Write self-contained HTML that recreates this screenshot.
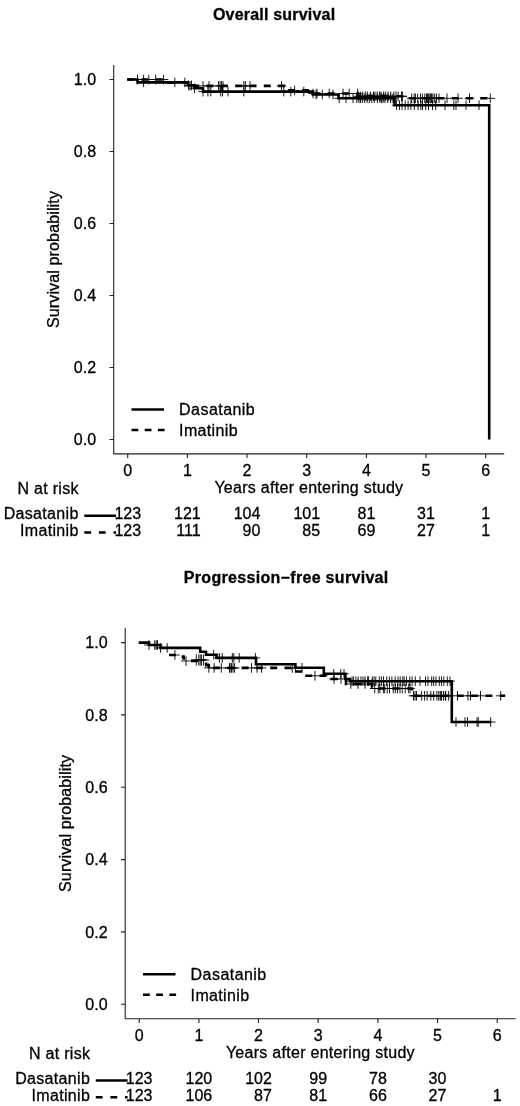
<!DOCTYPE html>
<html><head><meta charset="utf-8"><title>Survival curves</title>
<style>
html,body{margin:0;padding:0;background:#fff;}
svg{display:block;filter:blur(0.4px);}
text{font-family:"Liberation Sans",Arial,sans-serif;fill:#000;stroke:#000;stroke-width:0.3px;}
</style></head><body>
<svg width="520" height="1106" viewBox="0 0 520 1106">
<rect width="520" height="1106" fill="#fff"/>
<text x="274.1" y="20.2" text-anchor="middle" font-weight="bold" font-size="16" letter-spacing="0.2">Overall survival</text>
<path d="M113.7 65.1V453.9H504.2" fill="none" stroke="#222" stroke-width="1.1"/>
<path d="M113.7 439.5h-4.2M113.7 367.5h-4.2M113.7 295.5h-4.2M113.7 223.5h-4.2M113.7 151.5h-4.2M113.7 79.5h-4.2M127.7 453.9v4.2M187.4 453.9v4.2M247.0 453.9v4.2M306.7 453.9v4.2M366.4 453.9v4.2M426.0 453.9v4.2M485.7 453.9v4.2" fill="none" stroke="#222" stroke-width="1.1"/>
<text x="96.1" y="445.3" text-anchor="end" font-size="16">0.0</text>
<text x="96.1" y="373.3" text-anchor="end" font-size="16">0.2</text>
<text x="96.1" y="301.3" text-anchor="end" font-size="16">0.4</text>
<text x="96.1" y="229.3" text-anchor="end" font-size="16">0.6</text>
<text x="96.1" y="157.3" text-anchor="end" font-size="16">0.8</text>
<text x="96.1" y="85.3" text-anchor="end" font-size="16">1.0</text>
<text x="127.7" y="476.2" text-anchor="middle" font-size="16">0</text>
<text x="187.4" y="476.2" text-anchor="middle" font-size="16">1</text>
<text x="247.0" y="476.2" text-anchor="middle" font-size="16">2</text>
<text x="306.7" y="476.2" text-anchor="middle" font-size="16">3</text>
<text x="366.4" y="476.2" text-anchor="middle" font-size="16">4</text>
<text x="426.0" y="476.2" text-anchor="middle" font-size="16">5</text>
<text x="485.7" y="476.2" text-anchor="middle" font-size="16">6</text>
<text transform="translate(59.3 259.5) rotate(-90)" text-anchor="middle" font-size="16" letter-spacing="0.14">Survival probability</text>
<text x="308.9" y="493.3" text-anchor="middle" font-size="16" letter-spacing="0.28">Years after entering study</text>
<text x="78.8" y="493.8" text-anchor="end" font-size="16" letter-spacing="0.3">N at risk</text>
<text x="78.7" y="519.3" text-anchor="end" font-size="16" letter-spacing="0.33">Dasatanib</text>
<text x="78.7" y="535.9" text-anchor="end" font-size="16" letter-spacing="0.33">Imatinib</text>
<path d="M84.3 515.7H116.1" stroke="#000" stroke-width="2.6" fill="none"/>
<path d="M84.3 532.5H116.1" stroke="#000" stroke-width="2.6" stroke-dasharray="6.8 7.8" fill="none"/>
<text x="141.1" y="519.3" text-anchor="end" font-size="16">123</text>
<text x="141.1" y="535.9" text-anchor="end" font-size="16">123</text>
<text x="200.7" y="519.3" text-anchor="end" font-size="16">121</text>
<text x="200.7" y="535.9" text-anchor="end" font-size="16">111</text>
<text x="260.4" y="519.3" text-anchor="end" font-size="16">104</text>
<text x="260.4" y="535.9" text-anchor="end" font-size="16">90</text>
<text x="320.1" y="519.3" text-anchor="end" font-size="16">101</text>
<text x="320.1" y="535.9" text-anchor="end" font-size="16">85</text>
<text x="375.3" y="519.3" text-anchor="end" font-size="16">81</text>
<text x="375.3" y="535.9" text-anchor="end" font-size="16">69</text>
<text x="434.9" y="519.3" text-anchor="end" font-size="16">31</text>
<text x="434.9" y="535.9" text-anchor="end" font-size="16">27</text>
<text x="490.1" y="519.3" text-anchor="end" font-size="16">1</text>
<text x="490.1" y="535.9" text-anchor="end" font-size="16">1</text>
<path d="M131.5 409.5H164.0" stroke="#000" stroke-width="2.6" fill="none"/>
<path d="M131.5 430.0H164.6" stroke="#000" stroke-width="2.6" stroke-dasharray="6.8 6.4" fill="none"/>
<text x="179.1" y="415.3" font-size="16" letter-spacing="0.45">Dasatanib</text>
<text x="179.1" y="435.8" font-size="16" letter-spacing="0.35">Imatinib</text>

<path d="M127.2 79.5H168.0V82.4H190.0V85.9H285.4V90.4H313.0V93.5H358.0V96.3H404.0V98.3H491.0" stroke="#000" stroke-width="2.6" stroke-dasharray="7 7.3" stroke-dashoffset="0" fill="none"/>
<path d="M127.2 79.5H137.5V82.4H188.0V85.3H194.4V88.3H203.0V91.6H313.0V94.5H338.5V98.3H394.5V105.2H489.2V439.5H489.2" stroke="#000" stroke-width="2.6" fill="none" stroke-linejoin="miter"/>
<path d="M143.6 77.6V87.2M138.8 82.4H148.4M174.8 77.6V87.2M170.0 82.4H179.6M184.8 77.6V87.2M180.0 82.4H189.6M188.5 80.5V90.1M183.7 85.3H193.3M191.5 80.5V90.1M186.7 85.3H196.3M194.4 83.5V93.1M189.6 88.3H199.2M203.0 86.8V96.4M198.2 91.6H207.8M207.9 86.8V96.4M203.1 91.6H212.7M210.8 86.8V96.4M206.0 91.6H215.6M220.7 86.8V96.4M215.9 91.6H225.5M222.5 86.8V96.4M217.7 91.6H227.3M228.0 86.8V96.4M223.2 91.6H232.8M243.8 86.8V96.4M239.0 91.6H248.6M283.8 86.8V96.4M279.0 91.6H288.6M290.8 86.8V96.4M286.0 91.6H295.6M303.8 86.8V96.4M299.0 91.6H308.6M316.0 89.7V99.3M311.2 94.5H320.8M322.3 89.7V99.3M317.5 94.5H327.1M333.0 89.7V99.3M328.2 94.5H337.8M339.2 93.5V103.1M334.4 98.3H344.0M346.0 93.5V103.1M341.2 98.3H350.8M353.0 93.5V103.1M348.2 98.3H357.8M356.8 93.5V103.1M352.0 98.3H361.6M359.0 93.5V103.1M354.2 98.3H363.8M360.6 93.5V103.1M355.8 98.3H365.4M362.3 93.5V103.1M357.5 98.3H367.1M364.7 93.5V103.1M359.9 98.3H369.5M367.1 93.5V103.1M362.3 98.3H371.9M369.2 93.5V103.1M364.4 98.3H374.0M371.8 93.5V103.1M367.0 98.3H376.6M374.3 93.5V103.1M369.5 98.3H379.1M377.4 93.5V103.1M372.6 98.3H382.2M380.0 93.5V103.1M375.2 98.3H384.8M381.6 93.5V103.1M376.8 98.3H386.4M383.0 93.5V103.1M378.2 98.3H387.8M384.9 93.5V103.1M380.1 98.3H389.7M387.7 93.5V103.1M382.9 98.3H392.5M390.7 93.5V103.1M385.9 98.3H395.5M392.9 93.5V103.1M388.1 98.3H397.7M396.6 100.4V110.0M391.8 105.2H401.4M399.5 100.4V110.0M394.7 105.2H404.3M402.0 100.4V110.0M397.2 105.2H406.8M405.2 100.4V110.0M400.4 105.2H410.0M408.1 100.4V110.0M403.3 105.2H412.9M410.9 100.4V110.0M406.1 105.2H415.7M414.3 100.4V110.0M409.5 105.2H419.1M418.1 100.4V110.0M413.3 105.2H422.9M420.9 100.4V110.0M416.1 105.2H425.7M422.5 100.4V110.0M417.7 105.2H427.3M425.7 100.4V110.0M420.9 105.2H430.5M428.5 100.4V110.0M423.7 105.2H433.3M432.5 100.4V110.0M427.7 105.2H437.3M435.7 100.4V110.0M430.9 105.2H440.5M445.0 100.4V110.0M440.2 105.2H449.8M453.8 100.4V110.0M449.0 105.2H458.6M456.0 100.4V110.0M451.2 105.2H460.8M466.0 100.4V110.0M461.2 105.2H470.8M479.0 100.4V110.0M474.2 105.2H483.8M137.5 74.7V84.3M132.7 79.5H142.3M143.6 74.7V84.3M138.8 79.5H148.4M148.8 74.7V84.3M144.0 79.5H153.6M155.7 74.7V84.3M150.9 79.5H160.5M163.6 74.7V84.3M158.8 79.5H168.4M190.0 81.1V90.7M185.2 85.9H194.8M203.0 81.1V90.7M198.2 85.9H207.8M209.0 81.1V90.7M204.2 85.9H213.8M218.5 81.1V90.7M213.7 85.9H223.3M220.0 81.1V90.7M215.2 85.9H224.8M221.5 81.1V90.7M216.7 85.9H226.3M223.0 81.1V90.7M218.2 85.9H227.8M243.8 81.1V90.7M239.0 85.9H248.6M245.4 81.1V90.7M240.6 85.9H250.2M250.0 81.1V90.7M245.2 85.9H254.8M281.5 81.1V90.7M276.7 85.9H286.3M294.6 85.6V95.2M289.8 90.4H299.4M313.0 88.7V98.3M308.2 93.5H317.8M317.0 88.7V98.3M312.2 93.5H321.8M329.2 88.7V98.3M324.4 93.5H334.0M343.0 88.7V98.3M338.2 93.5H347.8M349.2 88.7V98.3M344.4 93.5H354.0M357.7 88.7V98.3M352.9 93.5H362.5M358.2 91.5V101.1M353.4 96.3H363.0M360.4 91.5V101.1M355.6 96.3H365.2M362.8 91.5V101.1M358.0 96.3H367.6M365.3 91.5V101.1M360.5 96.3H370.1M367.3 91.5V101.1M362.5 96.3H372.1M370.4 91.5V101.1M365.6 96.3H375.2M373.5 91.5V101.1M368.7 96.3H378.3M375.0 91.5V101.1M370.2 96.3H379.8M377.1 91.5V101.1M372.3 96.3H381.9M379.4 91.5V101.1M374.6 96.3H384.2M380.9 91.5V101.1M376.1 96.3H385.7M383.6 91.5V101.1M378.8 96.3H388.4M385.7 91.5V101.1M380.9 96.3H390.5M388.1 91.5V101.1M383.3 96.3H392.9M390.7 91.5V101.1M385.9 96.3H395.5M393.8 91.5V101.1M389.0 96.3H398.6M396.0 91.5V101.1M391.2 96.3H400.8M398.1 91.5V101.1M393.3 96.3H402.9M401.5 91.5V101.1M396.7 96.3H406.3M402.4 91.5V101.1M397.6 96.3H407.2M411.7 93.5V103.1M406.9 98.3H416.5M414.2 93.5V103.1M409.4 98.3H419.0M415.4 93.5V103.1M410.6 98.3H420.2M417.7 93.5V103.1M412.9 98.3H422.5M420.5 93.5V103.1M415.7 98.3H425.3M422.4 93.5V103.1M417.6 98.3H427.2M424.8 93.5V103.1M420.0 98.3H429.6M426.5 93.5V103.1M421.7 98.3H431.3M427.4 93.5V103.1M422.6 98.3H432.2M428.3 93.5V103.1M423.5 98.3H433.1M429.1 93.5V103.1M424.3 98.3H433.9M430.3 93.5V103.1M425.5 98.3H435.1M431.3 93.5V103.1M426.5 98.3H436.1M431.8 93.5V103.1M427.0 98.3H436.6M433.0 93.5V103.1M428.2 98.3H437.8M434.7 93.5V103.1M429.9 98.3H439.5M436.5 93.5V103.1M431.7 98.3H441.3M439.0 93.5V103.1M434.2 98.3H443.8M447.0 93.5V103.1M442.2 98.3H451.8M458.0 93.5V103.1M453.2 98.3H462.8M469.5 93.5V103.1M464.7 98.3H474.3M490.3 93.5V103.1M485.5 98.3H495.1" stroke="#000" stroke-width="0.9" fill="none"/>
<text x="286.2" y="583" text-anchor="middle" font-weight="bold" font-size="16" letter-spacing="0.31">Progression−free survival</text>
<path d="M125.2 628.1V1018.7H515.7" fill="none" stroke="#222" stroke-width="1.1"/>
<path d="M125.2 1004.2h-4.2M125.2 931.9h-4.2M125.2 859.6h-4.2M125.2 787.2h-4.2M125.2 714.9h-4.2M125.2 642.6h-4.2M139.2 1018.7v4.2M198.9 1018.7v4.2M258.5 1018.7v4.2M318.2 1018.7v4.2M377.9 1018.7v4.2M437.5 1018.7v4.2M497.2 1018.7v4.2" fill="none" stroke="#222" stroke-width="1.1"/>
<text x="107.6" y="1010.0" text-anchor="end" font-size="16">0.0</text>
<text x="107.6" y="937.7" text-anchor="end" font-size="16">0.2</text>
<text x="107.6" y="865.4" text-anchor="end" font-size="16">0.4</text>
<text x="107.6" y="793.0" text-anchor="end" font-size="16">0.6</text>
<text x="107.6" y="720.7" text-anchor="end" font-size="16">0.8</text>
<text x="107.6" y="648.4" text-anchor="end" font-size="16">1.0</text>
<text x="139.2" y="1041.0" text-anchor="middle" font-size="16">0</text>
<text x="198.9" y="1041.0" text-anchor="middle" font-size="16">1</text>
<text x="258.5" y="1041.0" text-anchor="middle" font-size="16">2</text>
<text x="318.2" y="1041.0" text-anchor="middle" font-size="16">3</text>
<text x="377.9" y="1041.0" text-anchor="middle" font-size="16">4</text>
<text x="437.5" y="1041.0" text-anchor="middle" font-size="16">5</text>
<text x="497.2" y="1041.0" text-anchor="middle" font-size="16">6</text>
<text transform="translate(70.8 823.4) rotate(-90)" text-anchor="middle" font-size="16" letter-spacing="0.14">Survival probability</text>
<text x="320.4" y="1058.1" text-anchor="middle" font-size="16" letter-spacing="0.28">Years after entering study</text>
<text x="90.3" y="1058.6" text-anchor="end" font-size="16" letter-spacing="0.3">N at risk</text>
<text x="90.2" y="1084.1" text-anchor="end" font-size="16" letter-spacing="0.33">Dasatanib</text>
<text x="90.2" y="1100.7" text-anchor="end" font-size="16" letter-spacing="0.33">Imatinib</text>
<path d="M95.8 1080.5H127.6" stroke="#000" stroke-width="2.6" fill="none"/>
<path d="M95.8 1097.3H127.6" stroke="#000" stroke-width="2.6" stroke-dasharray="6.8 7.8" fill="none"/>
<text x="152.5" y="1084.1" text-anchor="end" font-size="16">123</text>
<text x="152.5" y="1100.7" text-anchor="end" font-size="16">123</text>
<text x="212.2" y="1084.1" text-anchor="end" font-size="16">120</text>
<text x="212.2" y="1100.7" text-anchor="end" font-size="16">106</text>
<text x="271.9" y="1084.1" text-anchor="end" font-size="16">102</text>
<text x="271.9" y="1100.7" text-anchor="end" font-size="16">87</text>
<text x="327.1" y="1084.1" text-anchor="end" font-size="16">99</text>
<text x="327.1" y="1100.7" text-anchor="end" font-size="16">81</text>
<text x="386.8" y="1084.1" text-anchor="end" font-size="16">78</text>
<text x="386.8" y="1100.7" text-anchor="end" font-size="16">66</text>
<text x="446.4" y="1084.1" text-anchor="end" font-size="16">30</text>
<text x="446.4" y="1100.7" text-anchor="end" font-size="16">27</text>
<text x="501.6" y="1100.7" text-anchor="end" font-size="16">1</text>
<path d="M143.0 974.3H175.5" stroke="#000" stroke-width="2.6" fill="none"/>
<path d="M143.0 994.8H176.1" stroke="#000" stroke-width="2.6" stroke-dasharray="6.8 6.4" fill="none"/>
<text x="190.6" y="980.1" font-size="16" letter-spacing="0.45">Dasatanib</text>
<text x="190.6" y="1000.6" font-size="16" letter-spacing="0.35">Imatinib</text>
<path d="M169 655H175.9M181.6 656.6H183.6V658.4H185.2M191 661H198.3M206.2 662.5V665.2H208.8V668" stroke="#000" stroke-width="2.6" fill="none"/><path d="M174.9 650.2V659.8M170.1 655.0H179.7M186.0 656.2V665.8M181.2 661.0H190.8M196.3 654.4V665.6M190.7 660.0H201.9M198.8 654.4V665.6M193.2 660.0H204.4M200.2 654.4V665.6M194.6 660.0H205.8M201.6 654.4V665.6M196.0 660.0H207.2M203.6 654.4V665.6M198.0 660.0H209.2" stroke="#000" stroke-width="0.9" fill="none"/>
<path d="M208.8 667.9H293.0V671.5H305.0V675.8H326.0V679.0H346.0V684.0H372.0V688.5H412.0V695.8H505.0" stroke="#000" stroke-width="2.6" stroke-dasharray="7 7.3" stroke-dashoffset="-4.2" fill="none"/>
<path d="M138.7 642.6H149.0V645.0H160.5V647.9H200.2V651.8H206.0V654.7H216.5V657.9H256.0V664.2H295.4V667.8H323.8V673.8H345.4V679.0H350.0V681.2H451.8V722.0H491.2" stroke="#000" stroke-width="2.6" fill="none" stroke-linejoin="miter"/>
<path d="M149.0 640.2V649.8M144.2 645.0H153.8M154.7 640.2V649.8M149.9 645.0H159.5M156.2 640.2V649.8M151.4 645.0H161.0M157.5 640.2V649.8M152.7 645.0H162.3M160.5 643.1V652.7M155.7 647.9H165.3M167.2 643.1V652.7M162.4 647.9H172.0M213.7 649.9V659.5M208.9 654.7H218.5M219.4 653.1V662.7M214.6 657.9H224.2M222.3 653.1V662.7M217.5 657.9H227.1M232.3 653.1V662.7M227.5 657.9H237.1M233.8 653.1V662.7M229.0 657.9H238.6M239.2 653.1V662.7M234.4 657.9H244.0M255.4 653.1V662.7M250.6 657.9H260.2M295.4 663.0V672.6M290.6 667.8H300.2M302.0 663.0V672.6M297.2 667.8H306.8M333.8 669.0V678.6M329.0 673.8H338.6M340.8 669.0V678.6M336.0 673.8H345.6M344.0 669.0V678.6M339.2 673.8H348.8M352.1 676.4V686.0M347.3 681.2H356.9M353.6 676.4V686.0M348.8 681.2H358.4M355.9 676.4V686.0M351.1 681.2H360.7M358.2 676.4V686.0M353.4 681.2H363.0M361.0 676.4V686.0M356.2 681.2H365.8M363.0 676.4V686.0M358.2 681.2H367.8M365.0 676.4V686.0M360.2 681.2H369.8M367.6 676.4V686.0M362.8 681.2H372.4M368.6 676.4V686.0M363.8 681.2H373.4M372.3 676.4V686.0M367.5 681.2H377.1M374.1 676.4V686.0M369.3 681.2H378.9M375.8 676.4V686.0M371.0 681.2H380.6M379.3 676.4V686.0M374.5 681.2H384.1M381.4 676.4V686.0M376.6 681.2H386.2M383.5 676.4V686.0M378.7 681.2H388.3M386.7 676.4V686.0M381.9 681.2H391.5M389.4 676.4V686.0M384.6 681.2H394.2M391.9 676.4V686.0M387.1 681.2H396.7M395.1 676.4V686.0M390.3 681.2H399.9M398.0 676.4V686.0M393.2 681.2H402.8M400.2 676.4V686.0M395.4 681.2H405.0M402.8 676.4V686.0M398.0 681.2H407.6M404.1 676.4V686.0M399.3 681.2H408.9M406.4 676.4V686.0M401.6 681.2H411.2M409.8 676.4V686.0M405.0 681.2H414.6M412.1 676.4V686.0M407.3 681.2H416.9M415.3 676.4V686.0M410.5 681.2H420.1M420.0 676.4V686.0M415.2 681.2H424.8M425.5 676.4V686.0M420.7 681.2H430.3M428.0 676.4V686.0M423.2 681.2H432.8M431.7 676.4V686.0M426.9 681.2H436.5M433.7 676.4V686.0M428.9 681.2H438.5M436.0 676.4V686.0M431.2 681.2H440.8M439.3 676.4V686.0M434.5 681.2H444.1M441.5 676.4V686.0M436.7 681.2H446.3M443.8 676.4V686.0M439.0 681.2H448.6M447.3 676.4V686.0M442.5 681.2H452.1M450.0 676.4V686.0M445.2 681.2H454.8M456.0 717.2V726.8M451.2 722.0H460.8M465.0 717.2V726.8M460.2 722.0H469.8M467.5 717.2V726.8M462.7 722.0H472.3M477.0 717.2V726.8M472.2 722.0H481.8M478.3 717.2V726.8M473.5 722.0H483.1M490.7 717.2V726.8M485.9 722.0H495.5M208.8 663.1V672.7M204.0 667.9H213.6M214.1 663.1V672.7M209.3 667.9H218.9M221.3 663.1V672.7M216.5 667.9H226.1M229.5 663.1V672.7M224.7 667.9H234.3M230.0 663.1V672.7M225.2 667.9H234.8M231.5 663.1V672.7M226.7 667.9H236.3M233.0 663.1V672.7M228.2 667.9H237.8M234.6 663.1V672.7M229.8 667.9H239.4M251.5 663.1V672.7M246.7 667.9H256.3M257.0 663.1V672.7M252.2 667.9H261.8M261.5 663.1V672.7M256.7 667.9H266.3M292.2 663.1V672.7M287.4 667.9H297.0M315.0 671.0V680.6M310.2 675.8H319.8M334.0 674.2V683.8M329.2 679.0H338.8M341.0 674.2V683.8M336.2 679.0H345.8M350.8 679.2V688.8M346.0 684.0H355.6M358.0 679.2V688.8M353.2 684.0H362.8M365.0 679.2V688.8M360.2 684.0H369.8M371.7 679.2V688.8M366.9 684.0H376.5M374.7 683.7V693.3M369.9 688.5H379.5M378.3 683.7V693.3M373.5 688.5H383.1M379.9 683.7V693.3M375.1 688.5H384.7M383.4 683.7V693.3M378.6 688.5H388.2M384.7 683.7V693.3M379.9 688.5H389.5M387.3 683.7V693.3M382.5 688.5H392.1M389.5 683.7V693.3M384.7 688.5H394.3M393.2 683.7V693.3M388.4 688.5H398.0M395.3 683.7V693.3M390.5 688.5H400.1M397.5 683.7V693.3M392.7 688.5H402.3M400.0 683.7V693.3M395.2 688.5H404.8M402.2 683.7V693.3M397.4 688.5H407.0M405.2 683.7V693.3M400.4 688.5H410.0M408.7 683.7V693.3M403.9 688.5H413.5M410.0 683.7V693.3M405.2 688.5H414.8M413.5 691.0V700.6M408.7 695.8H418.3M415.0 691.0V700.6M410.2 695.8H419.8M416.5 691.0V700.6M411.7 695.8H421.3M421.7 691.0V700.6M416.9 695.8H426.5M424.6 691.0V700.6M419.8 695.8H429.4M427.1 691.0V700.6M422.3 695.8H431.9M430.8 691.0V700.6M426.0 695.8H435.6M433.7 691.0V700.6M428.9 695.8H438.5M436.9 691.0V700.6M432.1 695.8H441.7M438.7 691.0V700.6M433.9 695.8H443.5M440.2 691.0V700.6M435.4 695.8H445.0M441.0 691.0V700.6M436.2 695.8H445.8M441.6 691.0V700.6M436.8 695.8H446.4M443.5 691.0V700.6M438.7 695.8H448.3M445.3 691.0V700.6M440.5 695.8H450.1M445.8 691.0V700.6M441.0 695.8H450.6M448.6 691.0V700.6M443.8 695.8H453.4M457.5 691.0V700.6M452.7 695.8H462.3M468.0 691.0V700.6M463.2 695.8H472.8M470.5 691.0V700.6M465.7 695.8H475.3M480.5 691.0V700.6M475.7 695.8H485.3M500.7 691.0V700.6M495.9 695.8H505.5" stroke="#000" stroke-width="0.9" fill="none"/>
</svg>
</body></html>
